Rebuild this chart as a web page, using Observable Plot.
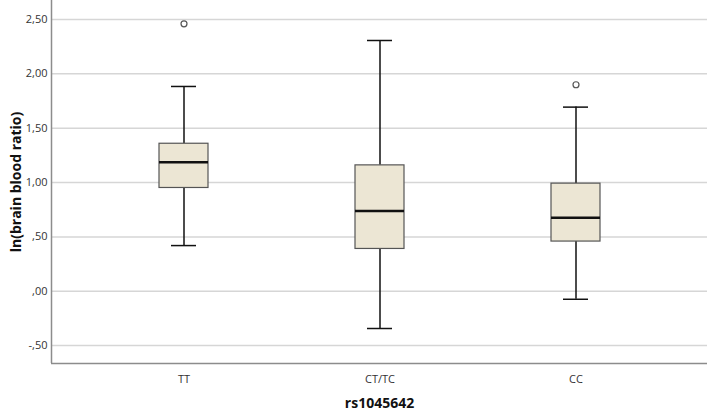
<!DOCTYPE html>
<html>
<head>
<meta charset="utf-8">
<script src="https://cdn.jsdelivr.net/npm/d3@7"></script>
<script src="https://cdn.jsdelivr.net/npm/@observablehq/plot@0.6"></script>
<style>
  html, body { margin: 0; padding: 0; background: #fff; overflow: hidden; }
  #chart svg { display: block; }
</style>
</head>
<body>
<div id="chart"></div>
<script>
// Data
const categories = ["TT", "CT/TC", "CC"];
const whiskerLow = [0.42, -0.343, -0.074];
const q1 = [0.95, 0.389, 0.457];
const median = [1.186, 0.738, 0.677];
const q3 = [1.357, 1.158, 0.99];
const whiskerHigh = [1.884, 2.307, 1.694];
const outlierCategories = ["TT", "CC"];
const outlierValues = [2.46, 1.90];
const yTicks = [-0.5, 0, 0.5, 1, 1.5, 2, 2.5];
const yTickLabels = ["-,50", ",00", ",50", "1,00", "1,50", "2,00", "2,50"];
const xTitle = "rs1045642";
const yTitle = "ln(brain blood ratio)";

const boxes = categories.map((c, i) => ({
  cat: c, lo: whiskerLow[i], q1: q1[i], med: median[i], q3: q3[i], hi: whiskerHigh[i]
}));
const outliers = outlierCategories.map((c, i) => ({cat: c, v: outlierValues[i]}));
const yLabelOf = new Map(yTicks.map((t, i) => [t, yTickLabels[i]]));

const font = "'Open Sans', 'Noto Sans', sans-serif";

const chart = Plot.plot({
  width: 708,
  height: 410,
  marginTop: 0,
  marginLeft: 51,
  marginRight: 1,
  marginBottom: 47,
  style: {fontFamily: font, fontSize: "11px", background: "#fff", color: "#333"},
  x: {domain: categories, paddingInner: 0.75, paddingOuter: 0.54},
  y: {domain: [-0.665, 2.675]},
  marks: [
    Plot.ruleY(yTicks, {stroke: "#d6d6d6", strokeWidth: 1.5}),
    Plot.axisY({
      ticks: yTicks, tickSize: 0, tickPadding: 4,
      tickFormat: d => yLabelOf.get(d),
      label: yTitle, labelAnchor: "center", labelArrow: false, labelOffset: 40
    }),
    Plot.axisX({
      tickSize: 0, tickPadding: 12,
      label: xTitle, labelAnchor: "center", labelArrow: false, labelOffset: 44
    }),
    Plot.ruleY([-0.665], {stroke: "#8c8c8c", strokeWidth: 1.5}),
    Plot.ruleX(boxes, {x: "cat", y1: "lo", y2: "q1", stroke: "#111", strokeWidth: 1.5}),
    Plot.ruleX(boxes, {x: "cat", y1: "q3", y2: "hi", stroke: "#111", strokeWidth: 1.5}),
    Plot.tickY(boxes, {x: "cat", y: "lo", stroke: "#111", strokeWidth: 1.5, insetLeft: 12, insetRight: 12}),
    Plot.tickY(boxes, {x: "cat", y: "hi", stroke: "#111", strokeWidth: 1.5, insetLeft: 12, insetRight: 12}),
    Plot.barY(boxes, {x: "cat", y1: "q1", y2: "q3", fill: "#ece6d4", stroke: "#555", strokeWidth: 1.2}),
    Plot.tickY(boxes, {x: "cat", y: "med", stroke: "#111", strokeWidth: 2.5}),
    Plot.dot(outliers, {x: "cat", y: "v", r: 3, stroke: "#555", fill: "#fff", strokeWidth: 1.2})
  ]
});

// left axis line drawn along the y scale's range
const svg = d3.select(chart);
const ys = chart.scale("y");
svg.append("line")
  .attr("x1", 51.5).attr("x2", 51.5)
  .attr("y1", ys.range[0]).attr("y2", ys.range[1])
  .attr("stroke", "#8c8c8c").attr("stroke-width", 1.5);

// bold axis titles
svg.selectAll("g[aria-label='y-axis label'] text, g[aria-label='x-axis label'] text")
  .style("font-weight", "bold").style("font-size", "14px").attr("fill", "#111");

document.getElementById("chart").appendChild(chart);
</script>
</body>
</html>
